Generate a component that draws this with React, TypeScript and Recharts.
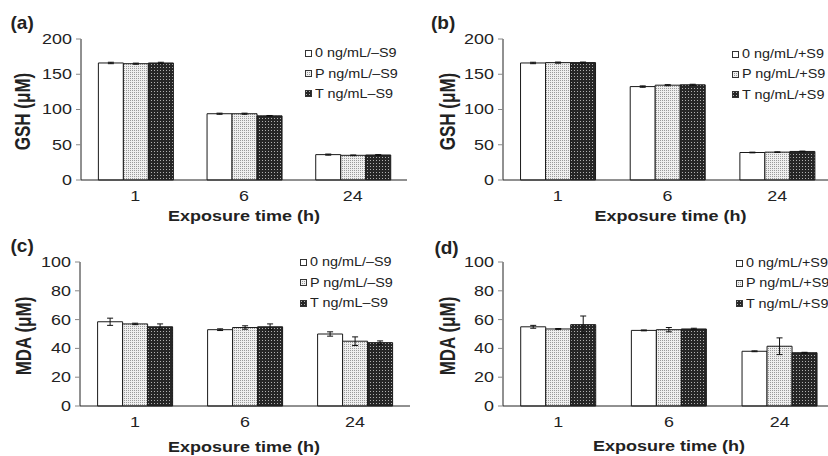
import React from 'react';
import { BarChart, Bar, XAxis, YAxis, ErrorBar, Legend } from 'recharts';

const FONT = '"Liberation Sans", Arial, Helvetica, sans-serif';
// the source figure's small text is drawn noticeably wider than plain Arial
const STRETCH = 1.28;
const LEGEND_STRETCH = 1.15;

const hours = ['1', '6', '24'];
const gshTicks = [0, 50, 100, 150, 200];
const mdaTicks = [0, 20, 40, 60, 80, 100];
const legendNoS9 = ['0 ng/mL/\u2013S9', 'P ng/mL/\u2013S9', 'T ng/mL\u2013S9'];
const legendS9 = ['0 ng/mL/+S9', 'P ng/mL/+S9', 'T ng/mL/+S9'];

// one row per series (0 / P / T ng/mL), one column per exposure time (1, 6, 24 h)
const gshNoS9 = [[166, 94, 36], [165, 94, 35], [166, 91, 35.5]];
const gshNoS9Err = [[1, 0.8, 0.8], [0.8, 0.8, 0.5], [1, 0.5, 0.5]];
const gshS9 = [[166, 132.5, 39], [166.5, 134.5, 39.5], [166.5, 135, 40.5]];
const gshS9Err = [[1, 1, 0.5], [0.8, 0.8, 0.5], [0.8, 0.8, 0.5]];
const mdaNoS9 = [[58.5, 53, 50], [57, 54.5, 45], [55, 55, 44]];
const mdaNoS9Err = [[2.5, 0.6, 1.5], [0.5, 1.2, 3], [2, 2, 1.2]];
const mdaS9 = [[55, 52.5, 38], [53.5, 53, 41.5], [56.5, 53.5, 37]];
const mdaS9Err = [[1, 0.3, 0.3], [0.3, 1.5, 5.8], [6, 0.5, 0.3]];

const YTick = (props: any) => {
  const { x, y, payload } = props;
  return (
    <g transform={`translate(${x},${y})`}>
      <text textAnchor="end" dy="0.355em" transform={`scale(${STRETCH},1)`} fontSize={14} fill="#222" fontFamily={FONT}>
        {payload.value}
      </text>
    </g>
  );
};

const XTick = (props: any) => {
  const { x, y, payload } = props;
  return (
    <g transform={`translate(${x},${y})`}>
      <text textAnchor="middle" dy="0.71em" transform={`scale(${STRETCH},1)`} fontSize={14} fill="#222" fontFamily={FONT}>
        {payload.value}
      </text>
    </g>
  );
};

const XTitle = (props: any) => {
  const { viewBox, drop, shift } = props;
  const cx = viewBox.x + viewBox.width / 2 + (shift || 0);
  const cy = viewBox.y + drop;
  return (
    <text transform={`translate(${cx},${cy}) scale(1.2,1)`} textAnchor="middle" fontSize={15} fontWeight="bold" fill="#222" fontFamily={FONT}>
      Exposure time (h)
    </text>
  );
};

const YTitle = (props: any) => {
  const { viewBox, text, at } = props;
  const cx = viewBox.x + at;
  const cy = viewBox.y + viewBox.height / 2 + 2;
  return (
    <text transform={`translate(${cx},${cy}) rotate(-90) scale(1,1.25)`} textAnchor="middle" dy="0.36em" fontSize={17} fontWeight="bold" fill="#222" fontFamily={FONT}>
      {text}
    </text>
  );
};

const LegendBox = ({ names, fills }: { names: string[]; fills: string[] }) => (
  <div style={{ fontFamily: FONT, fontSize: 12.5, color: '#222' }}>
    {names.map((n, i) => (
      <div key={n} style={{ height: 20.3, display: 'flex', alignItems: 'center', whiteSpace: 'nowrap' }}>
        <svg width={7} height={7} style={{ marginRight: 3, flex: 'none' }}>
          <rect x={0.5} y={0.5} width={6} height={6} fill={fills[i]} stroke="#333" />
        </svg>
        <span style={{ display: 'inline-block', transform: `scaleX(${LEGEND_STRETCH})`, transformOrigin: 'left center' }}>{n}</span>
      </div>
    ))}
  </div>
);

type PanelProps = {
  id: string;
  letter: string;
  letterAt: [number, number];
  values: number[][];
  errors: number[][];
  names: string[];
  yLabel: string;
  ticks: number[];
  left: number;
  top: number;
  width: number;
  margin: { top: number; right: number; bottom: number; left: number };
  yAxisWidth: number;
  xAxisHeight: number;
  legendAt: [number, number];
  yLabelX: number;
  titleDrop: number;
  titleShift: number;
};

const Panel = (p: PanelProps) => {
  const rows = hours.map((hour, i) => ({
    hour,
    v0: p.values[0][i],
    v1: p.values[1][i],
    v2: p.values[2][i],
    e0: p.errors[0][i],
    e1: p.errors[1][i],
    e2: p.errors[2][i],
  }));
  const fills = ['#ffffff', `url(#${p.id}-light)`, `url(#${p.id}-dark)`];
  const top = p.ticks[p.ticks.length - 1];

  return (
    <div style={{ position: 'absolute', left: p.left, top: p.top }}>
      <BarChart width={p.width} height={228} data={rows} margin={p.margin} barGap={0} barCategoryGap="16%">
        <defs>
          <pattern id={`${p.id}-light`} width="2" height="2" patternUnits="userSpaceOnUse">
            <rect width="2" height="2" fill="#efefef" />
            <rect width="1" height="1" fill="#9a9a9a" />
          </pattern>
          <pattern id={`${p.id}-dark`} width="3" height="3" patternUnits="userSpaceOnUse">
            <rect width="3" height="3" fill="#262626" />
            <rect x="1" y="1" width="1" height="1" fill="#b0b0b0" />
          </pattern>
        </defs>
        {/* small ticks between the time groups */}
        <XAxis
          xAxisId="grid"
          type="number"
          domain={[0, 3]}
          ticks={[0, 1, 2, 3]}
          height={0}
          axisLine={false}
          tick={false}
          tickSize={4}
          tickLine={{ stroke: '#888' }}
        />
        <XAxis
          xAxisId="cat"
          dataKey="hour"
          height={p.xAxisHeight}
          axisLine={{ stroke: '#222' }}
          tickLine={false}
          tickSize={0}
          tickMargin={11.5}
          tick={<XTick />}
          label={<XTitle drop={p.titleDrop} shift={p.titleShift} />}
        />
        <YAxis
          width={p.yAxisWidth}
          domain={[0, top]}
          ticks={p.ticks}
          axisLine={{ stroke: '#222' }}
          tickLine={{ stroke: '#888' }}
          tickSize={5}
          tickMargin={4}
          tick={<YTick />}
          label={<YTitle text={p.yLabel} at={p.yLabelX} />}
        />
        <Legend
          layout="vertical"
          align="center"
          verticalAlign="middle"
          wrapperStyle={{ left: p.legendAt[0], top: p.legendAt[1] }}
          content={() => <LegendBox names={p.names} fills={fills} />}
        />
        {[0, 1, 2].map((k) => (
          <Bar
            key={k}
            xAxisId="cat"
            dataKey={`v${k}`}
            name={p.names[k]}
            fill={fills[k]}
            stroke="#1a1a1a"
            strokeWidth={1}
            isAnimationActive={false}
          >
            <ErrorBar dataKey={`e${k}`} width={3} stroke="#111" strokeWidth={1} direction="y" />
          </Bar>
        ))}
      </BarChart>
      <div
        style={{
          position: 'absolute',
          left: p.letterAt[0],
          top: p.letterAt[1],
          fontFamily: FONT,
          fontWeight: 'bold',
          fontSize: 19,
          lineHeight: '19px',
          color: '#222',
          whiteSpace: 'nowrap',
        }}
      >
        {p.letter}
      </div>
    </div>
  );
};

export default function App() {
  return (
    <div style={{ position: 'absolute', left: 0, top: 0, width: 828, height: 456, overflow: 'hidden', background: '#fff' }}>
      <Panel
        id="pa"
        letter="(a)"
        letterAt={[10.5, 12.9]}
        values={gshNoS9}
        errors={gshNoS9Err}
        names={legendNoS9}
        yLabel="GSH (μM)"
        ticks={gshTicks}
        left={0}
        top={0}
        width={414}
        margin={{ top: 39, right: 7, bottom: 0, left: 0 }}
        yAxisWidth={81}
        xAxisHeight={48}
        legendAt={[305, 43.2]}
        yLabelX={22.5}
        titleDrop={41}
        titleShift={0}
      />
      <Panel
        id="pb"
        letter="(b)"
        letterAt={[17, 12.9]}
        values={gshS9}
        errors={gshS9Err}
        names={legendS9}
        yLabel="GSH (μM)"
        ticks={gshTicks}
        left={414}
        top={0}
        width={418}
        margin={{ top: 39, right: 0, bottom: 0, left: 0 }}
        yAxisWidth={89}
        xAxisHeight={48}
        legendAt={[318.3, 44]}
        yLabelX={33.5}
        titleDrop={41}
        titleShift={3}
      />
      <Panel
        id="pc"
        letter="(c)"
        letterAt={[10.5, 8.2]}
        values={mdaNoS9}
        errors={mdaNoS9Err}
        names={legendNoS9}
        yLabel="MDA (μM)"
        ticks={mdaTicks}
        left={0}
        top={228}
        width={414}
        margin={{ top: 34, right: 4, bottom: 0, left: 0 }}
        yAxisWidth={80}
        xAxisHeight={50}
        legendAt={[300, 24.3]}
        yLabelX={23.3}
        titleDrop={46}
        titleShift={-1}
      />
      <Panel
        id="pd"
        letter="(d)"
        letterAt={[20.4, 9.9]}
        values={mdaS9}
        errors={mdaS9Err}
        names={legendS9}
        yLabel="MDA (μM)"
        ticks={mdaTicks}
        left={414}
        top={228}
        width={421}
        margin={{ top: 34, right: 0, bottom: 0, left: 0 }}
        yAxisWidth={89}
        xAxisHeight={50}
        legendAt={[322, 25]}
        yLabelX={33.3}
        titleDrop={45}
        titleShift={0}
      />
    </div>
  );
}
